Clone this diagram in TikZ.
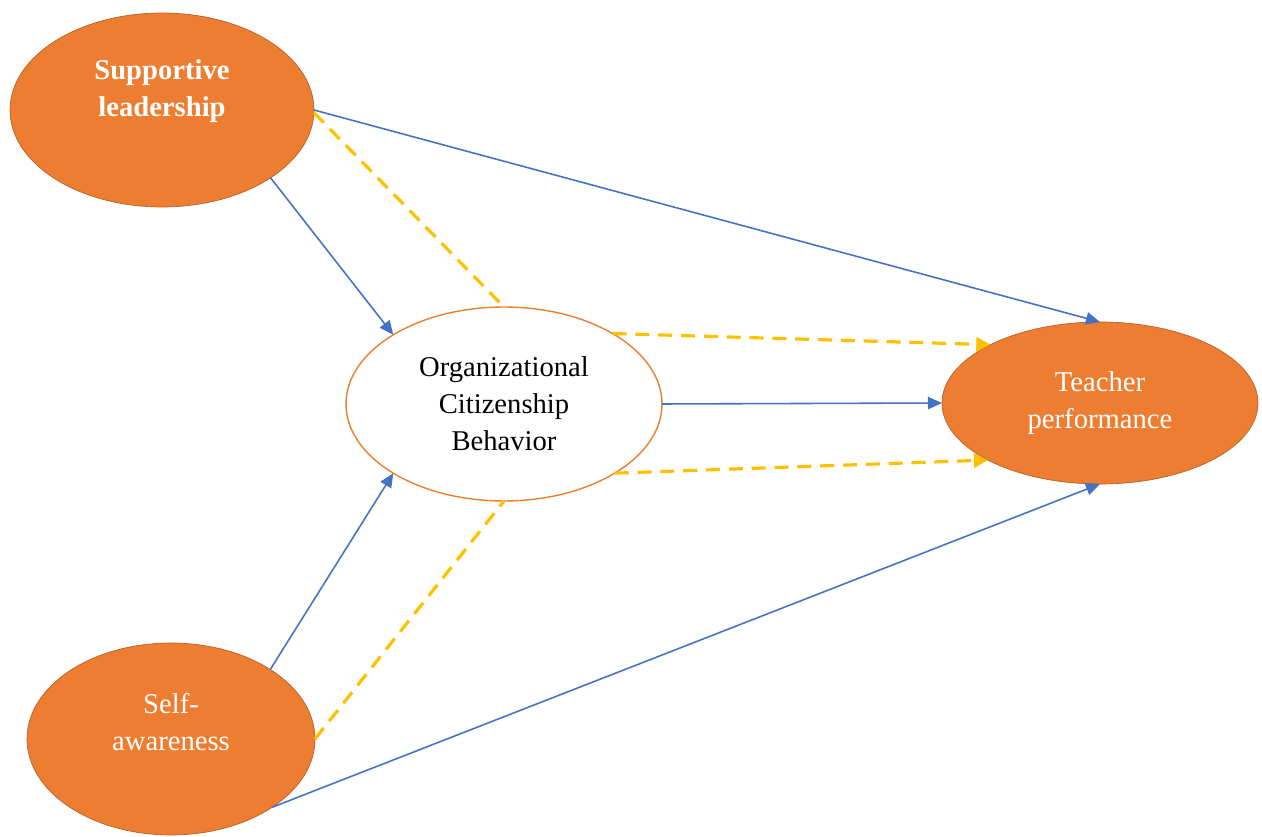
\documentclass[tikz,border=0pt]{standalone}
\usepackage{fontspec}
\setmainfont{Liberation Serif}
\usetikzlibrary{arrows.meta,shapes.geometric}

\definecolor{varorange}{HTML}{ED7D31}
\definecolor{varedge}{HTML}{B5612A}
\definecolor{pathblue}{HTML}{4472C4}
\definecolor{medyellow}{HTML}{FFC000}

\tikzset{
	latent/.style={ellipse, draw=varedge, fill=varorange, text=white, inner sep=0pt, outer sep=0pt, align=center, font=\fontsize{16.3}{21}\selectfont},
	mediator/.style={ellipse, draw=varorange, fill=white, thick, inner sep=0pt, outer sep=0pt, align=center, font=\fontsize{16.3}{21}\selectfont},
	direct/.style={draw=pathblue, line width=0.9pt, -{Triangle[length=8pt,width=7pt]}},
	indirect/.style={draw=medyellow, line width=1.8pt, dash pattern=on 8pt off 5pt},
}

\begin{document}
\begin{tikzpicture}[x=0.02cm,y=-0.02cm]
	\useasboundingbox (0,0) rectangle (1262,837);

	\node[latent, minimum width=6.08cm, minimum height=3.88cm] (sl) at (162,110) {};
	\node[latent, minimum width=5.76cm, minimum height=3.84cm] (sa) at (171,739) {};
	\node[mediator, minimum width=6.32cm, minimum height=3.88cm] (ocb) at (504,404) {Organizational\\Citizenship\\Behavior};
	\node[latent, minimum width=6.32cm, minimum height=3.24cm] (tp) at (1100,403) {Teacher\\performance};

	\node[text=white, align=center, font=\fontsize{16.3}{21}\selectfont\bfseries] (sltext) at (162,91) {Supportive\\leadership};
	\node[text=white, align=center, font=\fontsize{16.3}{21}\selectfont] (satext) at (171,722) {Self-\\awareness};

	% direct paths
	\draw[direct] (sl.-32) -- (ocb.148);
	\draw[direct] (sl.east) -- (tp.north);
	\draw[direct] (ocb.east) -- (tp.west);
	\draw[direct] (sa.35) -- (ocb.-148);
	\draw[direct] (sa.-34) -- (tp.south);

	% mediation paths
	\draw[indirect] (sl.-1) -- (ocb.north);
	\draw[indirect] (sa.east) -- (ocb.south);
	\draw[indirect, -{Triangle[length=8pt,width=8pt]}] (ocb.33) -- (tp.152);
	\draw[indirect, -{Triangle[length=8pt,width=8pt]}] (ocb.-32) -- (tp.-153);
\end{tikzpicture}
\end{document}
